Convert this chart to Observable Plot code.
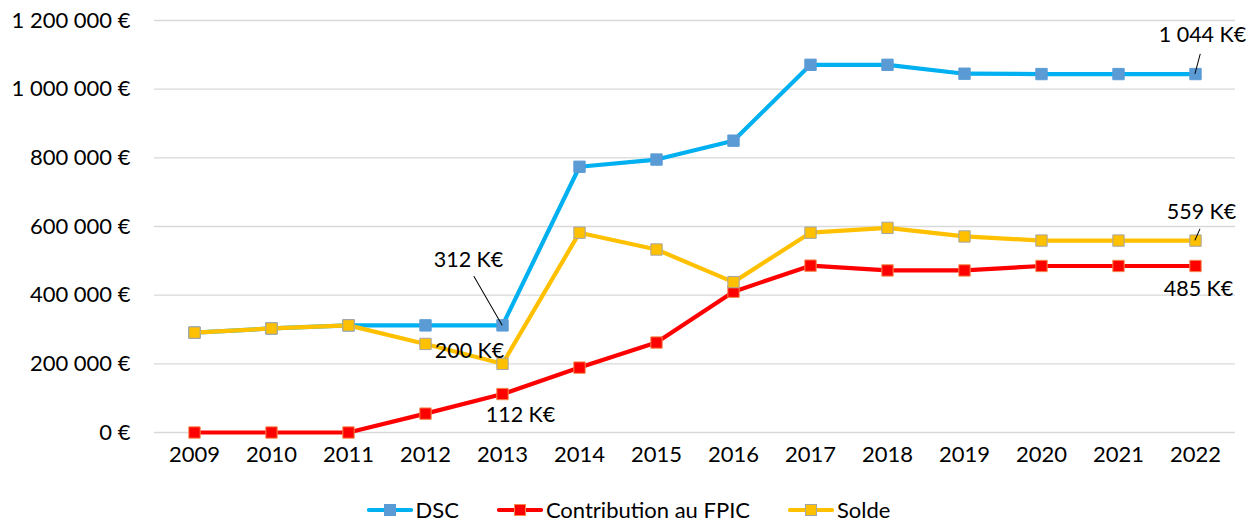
<!DOCTYPE html>
<html>
<head>
<meta charset="utf-8">
<script src="https://cdn.jsdelivr.net/npm/d3@7"></script>
<script src="https://cdn.jsdelivr.net/npm/@observablehq/plot@0.6"></script>
<style>
  body { margin: 0; background: #fff; font-family: Lato, "Open Sans", sans-serif; overflow: hidden; }
  #legend { display: flex; justify-content: center; gap: 38px; font-size: 22px; line-height: 31px; color: #000; height: 31px; align-items: center; padding-top: 16px; }
  .item { display: flex; align-items: center; gap: 3px; }
</style>
</head>
<body>
<div id="chart"></div>
<div id="legend"></div>
<script>
const years = [2009, 2010, 2011, 2012, 2013, 2014, 2015, 2016, 2017, 2018, 2019, 2020, 2021, 2022];
const dsc   = [291000, 303000, 312000, 312000, 312000, 774000, 795000, 850000, 1071000, 1071000, 1045000, 1044000, 1044000, 1044000];
const fpic  = [0, 0, 0, 55000, 112000, 189000, 262000, 410000, 486000, 472000, 472000, 485000, 485000, 485000];
const solde = [291000, 303000, 312000, 258000, 200000, 582000, 533000, 438000, 582000, 596000, 571000, 559000, 559000, 559000];
const yTicks = [0, 200000, 400000, 600000, 800000, 1000000, 1200000];

const seriesNames = ["DSC", "Contribution au FPIC", "Solde"];
const lineColors = ["#00B0F0", "#FF0000", "#FFC000"];
const markFill = ["#5B9BD5", "#FF0000", "#FFC000"];
const markStroke = ["#5B9BD5", "#F4874B", "#A5A5A5"];

const seriesValues = [dsc, fpic, solde];
const series = seriesNames.map((name, i) => years.map((y, j) => ({year: String(y), value: seriesValues[i][j], name})));

const labels = [
  {year: "2013", value: 312000, text: "312 K€", dx: -34, dy: -65},
  {year: "2013", value: 200000, text: "200 K€", dx: -33, dy: -13},
  {year: "2013", value: 112000, text: "112 K€", dx: 18, dy: 21},
  {year: "2022", value: 1044000, text: "1 044 K€", dx: 7, dy: -39},
  {year: "2022", value: 559000, text: "559 K€", dx: 6, dy: -28},
  {year: "2022", value: 485000, text: "485 K€", dx: 3, dy: 23}
];
const leaders = [
  {year: "2013", value: 312000, length: 56, rotate: -30, dx: 2, dy: -1},
  {year: "2022", value: 1044000, length: 20, rotate: 15, dx: -4, dy: -2},
  {year: "2022", value: 559000, length: 12, rotate: 24, dx: -4, dy: 0}
];

const lineShape = {draw(ctx, l) { ctx.moveTo(0, 0); ctx.lineTo(0, -l); }};
const fmt = d => d3.format(",")(d).replace(/,/g, " ") + " €";

const marks = [
  Plot.gridY(yTicks, {stroke: "#D9D9D9", strokeOpacity: 1, strokeWidth: 1.3})
];
series.forEach((s, i) => {
  marks.push(Plot.line(s, {x: "year", y: "value", stroke: lineColors[i], strokeWidth: 4.2}));
  marks.push(Plot.dot(s, {x: "year", y: "value", symbol: "square", r: 6.4, fill: markFill[i], stroke: markStroke[i], strokeWidth: 1}));
});
marks.push(Plot.vector(leaders, {x: "year", y: "value", length: "length", rotate: "rotate", anchor: "start", shape: lineShape, stroke: "#000", strokeWidth: 1, dx: "dx", dy: "dy"}));
labels.forEach(l => {
  marks.push(Plot.text([l], {x: "year", y: "value", text: "text", dx: l.dx, dy: l.dy, fontSize: 21.5, fill: "#000"}));
});

const chart = Plot.plot({
  width: 1257,
  height: 478,
  marginLeft: 154,
  marginRight: 22,
  marginTop: 20,
  marginBottom: 46,
  style: {fontFamily: "Lato, 'Open Sans', sans-serif", fontSize: "22px", color: "#000", background: "#fff"},
  x: {type: "point", domain: years.map(String), padding: 0.5, label: null, tickSize: 0, tickPadding: 14},
  y: {domain: [0, 1200000], ticks: yTicks, tickFormat: fmt, label: null, tickSize: 0, tickPadding: 24},
  length: {type: "identity"},
  marks
});
chart.style.display = "block";
document.getElementById("chart").appendChild(chart);

const legend = document.getElementById("legend");
seriesNames.forEach((name, i) => {
  const item = document.createElement("div");
  item.className = "item";
  item.innerHTML = `<svg width="46" height="14"><line x1="2" y1="7" x2="44" y2="7" stroke="${lineColors[i]}" stroke-width="4.2" stroke-linecap="round"/><rect x="17.5" y="1.5" width="11" height="11" fill="${markFill[i]}" stroke="${markStroke[i]}" stroke-width="1"/></svg><span>${name}</span>`;
  legend.appendChild(item);
});
</script>
</body>
</html>
